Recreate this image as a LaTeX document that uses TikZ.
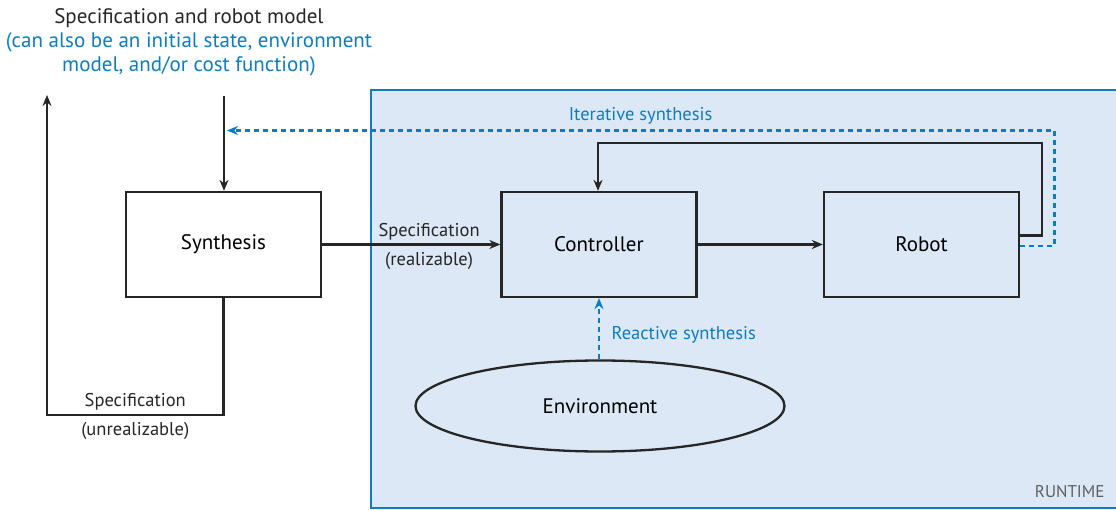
\documentclass[tikz,border=0pt]{standalone}
\usepackage{fontspec}
\setmainfont{PT Sans}
\usetikzlibrary{arrows.meta,calc,shapes.geometric}
\definecolor{runblue}{RGB}{10,125,195}
\definecolor{runfill}{RGB}{220,232,245}
\definecolor{rungray}{RGB}{95,95,95}

\begin{document}
\begin{tikzpicture}[x=1pt, y=-1pt, >={Stealth[length=11pt,width=9pt]},
  block/.style={draw=black!85, line width=2.3pt, minimum width=195pt, minimum height=105pt, font=\fontsize{21}{24}\selectfont},
  flow/.style={->, line width=2.3pt, black!85},
  iter/.style={->, line width=2.7pt, runblue, dash pattern=on 5pt off 4pt},
  lbl/.style={font=\fontsize{18.5}{21}\selectfont, text=black!85},
  bluelbl/.style={font=\fontsize{18.5}{21}\selectfont, text=runblue}]
\useasboundingbox (0,0) rectangle (1116,510);

% Runtime region
\fill[runfill] (371,90) rectangle (1117,508);
\draw[runblue, line width=2.3pt] (1117,90) -- (371,90) -- (371,508) -- (1117,508);
\node[font=\fontsize{17}{19}\selectfont, text=rungray, anchor=east] (runtime) at (1108,492) {RUNTIME};

% Input text
\node[align=center, font=\fontsize{21}{24}\selectfont, text=black!85] (spec) at (189,42)
  {Specification and robot model\\
   \textcolor{runblue}{(can also be an initial state, environment}\\
   \textcolor{runblue}{model, and/or cost function)}};

% Blocks
\node[block] (synth) at (223.5,244.5) {Synthesis};
\node[block] (ctrl) at (599,244.5) {Controller};
\node[block] (robot) at (921.5,244.5) {Robot};
\node[draw=black!85, ellipse, line width=2.3pt, minimum width=369pt, minimum height=91pt,
  font=\fontsize{21}{24}\selectfont] (env) at (600,406) {Environment};

% Coordinates
\coordinate (specin) at (224,96);
\coordinate (unreal) at (47,95);
\coordinate (itin) at (227,130.5);
\coordinate (fbout) at ($(robot.east)+(0,-9)$);
\coordinate (itout) at ($(robot.east)+(0,1.5)$);

% Flows
\draw[flow] (specin) -- (synth.north -| specin);
\draw[flow] (synth.south) |- (47,415)
  node[lbl, pos=0.75, above=0pt] {Specification}
  node[lbl, pos=0.75, below=3pt] {(unrealizable)} -- (unreal);
\draw[flow] (synth) -- (ctrl)
  node[lbl, pos=0.6, above=0pt] {Specification}
  node[lbl, pos=0.6, below=3pt] {(realizable)};
\draw[flow] (ctrl) -- (robot);
\draw[flow] (fbout) -- ++(22,0) |- ($(ctrl.north)+(-1,-48)$) -- ($(ctrl.north)+(-1,0)$);

% Synthesis loops
\draw[iter] (itout) -- ++(34,0) |- (itin)
  node[bluelbl, pos=0.75, above=2pt] {Iterative synthesis};
\draw[iter] (env.north -| ctrl.south) -- (ctrl.south)
  node[bluelbl, pos=0.4, right=8pt] {Reactive synthesis};
\end{tikzpicture}
\end{document}
